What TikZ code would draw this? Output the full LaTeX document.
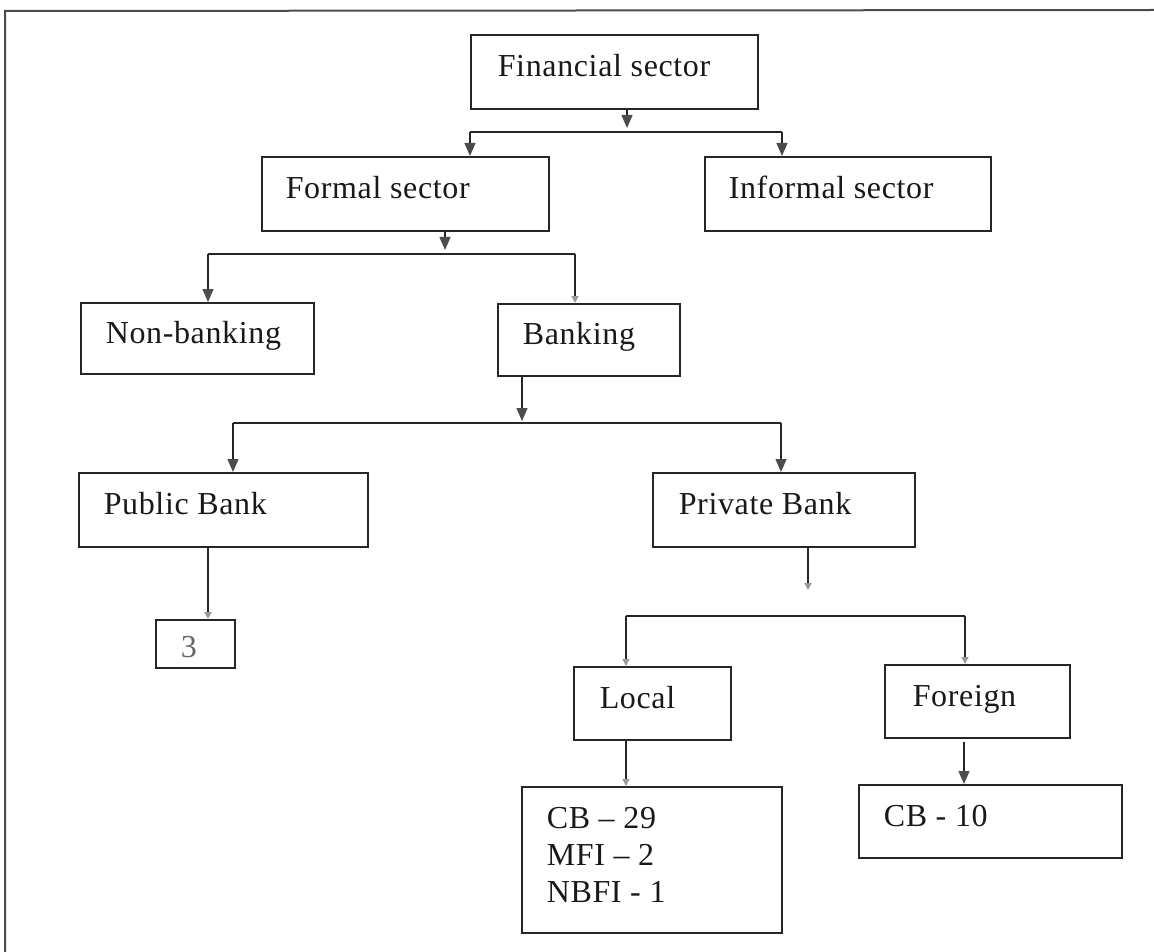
\documentclass[tikz,border=0pt]{standalone}
\usepackage{fontspec}
\setmainfont{Liberation Serif}[LetterSpace=2]
\usetikzlibrary{arrows.meta}
\newcommand{\bx}[7]{\node[box, minimum width=#4, minimum height=#5] (#1) at (#2,#3) {\makebox[#4pt][l]{\hspace{#6pt}#7}};}
\begin{document}
\begin{tikzpicture}[x=1pt,y=-1pt,
  box/.style={draw=black!85, line width=1.6pt, anchor=north west, inner xsep=0pt, inner ysep=0pt,
    text height=20pt, text depth=10pt, font=\fontsize{32}{37}\selectfont, text=black!90},
  ln/.style={draw=black!85, line width=1.4pt},
  arr/.style={ln, -{Triangle[width=11pt,length=13pt,color=black!70]}},
  farr/.style={ln, -{Triangle[width=7pt,length=7pt,color=black!40]}},
  frame/.style={draw=black!70, line width=2pt}
]
\useasboundingbox (0,0) rectangle (1154,952);
\draw[frame] (1154,10) -- (5,11) -- (5,952);

\bx{fin}{470}{34}{287}{74}{27}{Financial sector}
\bx{formal}{261}{156}{287}{74}{24}{Formal sector}
\bx{informal}{704}{156}{286}{74}{24}{Informal sector}
\bx{nonbank}{80}{302}{233}{71}{25}{Non-banking}
\bx{banking}{497}{303}{182}{72}{25}{Banking}
\bx{public}{78}{472}{289}{74}{25}{Public Bank}
\bx{private}{652}{472}{262}{74}{26}{Private Bank}
\node[box, minimum width=79, minimum height=48, text height=28pt, text depth=0pt, text=black!60] (three) at (155,619) {\makebox[79pt][l]{\hspace{25pt}3}};
\bx{local}{573}{666}{157}{73}{26}{Local}
\bx{foreign}{884}{664}{185}{73}{28}{Foreign}
\node[box, minimum width=260, minimum height=146, text depth=82pt] (cb) at (521,786)
  {\makebox[260pt][l]{\hspace{25pt}\begin{tabular}[t]{@{}l@{}}CB – 29\\MFI – 2\\NBFI - 1\end{tabular}}};
\bx{cbten}{858}{784}{263}{73}{25}{CB - 10}

% Financial sector split
\coordinate (j1) at (627,132);
\coordinate (j1a) at (470,132);
\coordinate (j1b) at (782,132);
\draw[arr] (fin.south -| j1) -- ([yshift=4pt]j1);
\draw[ln] (j1a) -- (j1b);
\draw[arr] (j1a) -- (formal.north -| j1a);
\draw[arr] (j1b) -- (informal.north -| j1b);

% Formal sector split
\coordinate (j2) at (445,254);
\coordinate (j2a) at (208,254);
\coordinate (j2b) at (575,254);
\draw[arr] (formal.south -| j2) -- ([yshift=4pt]j2);
\draw[ln] (j2a) -- (j2b);
\draw[arr] (j2a) -- (nonbank.north -| j2a);
\draw[farr] (j2b) -- (banking.north -| j2b);

% Banking split
\coordinate (j3) at (522,423);
\coordinate (j3a) at (233,423);
\coordinate (j3b) at (781,423);
\draw[arr] (banking.south -| j3) -- ([yshift=2pt]j3);
\draw[ln] (j3a) -- (j3b);
\draw[arr] (j3a) -- (public.north -| j3a);
\draw[arr] (j3b) -- (private.north -| j3b);

% Public bank
\coordinate (p1) at (208,546);
\draw[farr] (public.south -| p1) -- (three.north -| p1);

% Private bank split
\coordinate (q1) at (808,590);
\coordinate (j4a) at (626,616);
\coordinate (j4b) at (965,616);
\draw[farr] (private.south -| q1) -- (q1);
\draw[ln] (j4a) -- (j4b);
\draw[farr] (j4a) -- (local.north -| j4a);
\draw[farr] (j4b) -- (foreign.north -| j4b);

% Local and foreign
\coordinate (l1) at (626,740);
\draw[farr] (local.south -| l1) -- (cb.north -| l1);
\coordinate (f1) at (964,742);
\draw[arr] (f1) -- (cbten.north -| f1);
\end{tikzpicture}
\end{document}
